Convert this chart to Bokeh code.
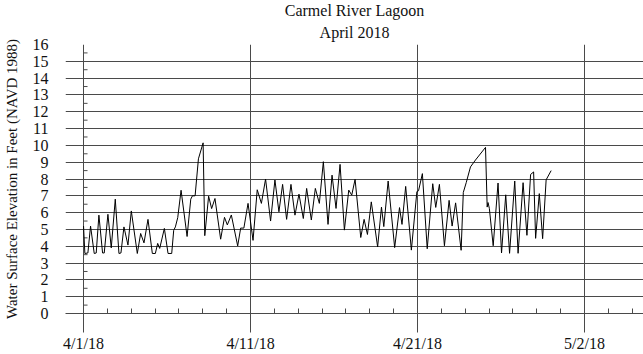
from bokeh.plotting import figure
from bokeh.models import FixedTicker, Range1d, Title
from bokeh.embed import file_html
from bokeh.resources import INLINE

# Days since 4/1/2018 and water surface elevation (ft, NAVD 1988)
days = [0, 0.08, 0.26, 0.42, 0.64, 0.76, 0.92, 1.14, 1.24, 1.46, 1.66, 1.9, 2.12, 2.24,
        2.42, 2.66, 2.86, 3.22, 3.42, 3.62, 3.86, 4.12, 4.3, 4.44, 4.56, 4.84, 5.06, 5.28,
        5.4, 5.5, 5.64, 5.84, 6.2, 6.42, 6.52, 6.68, 6.88, 7.16, 7.26, 7.49, 7.67, 7.87,
        8.21, 8.44, 8.61, 8.85, 9.23, 9.41, 9.6, 9.85, 10.15, 10.4, 10.65, 10.9, 11.2,
        11.46, 11.7, 11.92, 12.16, 12.42, 12.66, 12.9, 13.16, 13.36, 13.64, 13.88, 14.12,
        14.36, 14.64, 14.88, 15.12, 15.36, 15.62, 15.88, 16.06, 16.26, 16.6, 16.8, 17.0,
        17.23, 17.61, 17.84, 17.98, 18.24, 18.63, 18.92, 19.07, 19.29, 19.63, 19.96, 20.06,
        20.29, 20.58, 20.91, 21.09, 21.31, 21.61, 21.89, 22.07, 22.28, 22.61, 22.74, 22.92,
        23.17, 23.47, 24.07, 24.17, 24.22, 24.3, 24.53, 24.82, 25.03, 25.28, 25.51, 25.82,
        26.02, 26.32, 26.55, 26.77, 26.95, 27.07, 27.29, 27.49, 27.7, 28.0]
elev = [5.2, 3.57, 3.6, 5.2, 3.57, 3.6, 5.85, 3.6, 3.6, 5.9, 3.9, 6.8, 3.57, 3.6,
        5.15, 4.07, 6.1, 3.57, 4.76, 4.2, 5.6, 3.57, 3.57, 4.17, 3.87, 5.06, 3.57, 3.57,
        4.95, 5.15, 5.7, 7.33, 4.58, 6.8, 7.0, 7.0, 9.2, 10.15, 4.63, 6.98, 6.24, 6.84,
        4.42, 5.72, 5.27, 5.86, 4.02, 5.08, 5.08, 6.55, 4.35, 7.36, 6.55, 8.0, 5.5,
        7.94, 6.05, 7.68, 5.6, 7.68, 5.85, 7.1, 5.65, 7.44, 5.56, 7.44, 6.55,
        9.03, 5.3, 8.23, 6.25, 8.87, 4.96, 7.34, 7.04, 7.98, 4.52, 5.6, 4.7,
        6.64, 3.96, 6.33, 5.17, 7.88, 3.92, 6.3, 5.3, 7.56, 3.77, 7.25, 7.3,
        8.32, 3.85, 7.72, 6.31, 7.68, 4.03, 6.73, 5.2, 6.58, 3.76, 7.2, 7.8,
        8.72, 9.13, 9.88, 6.33, 6.6, 6.25, 4.03, 7.76, 3.6, 7.06, 3.58, 7.88,
        3.58, 7.78, 4.65, 8.27, 8.42, 4.47, 7.13, 4.45, 7.95, 8.5]

x_major_ticks = [0, 10, 20, 30]
x_major_labels = ["4/1/18", "4/11/18", "4/21/18", "5/2/18"]
x_minor_ticks = [1.43, 2.86, 4.29, 5.71, 7.14, 8.57,
                 11.43, 12.86, 14.29, 15.71, 17.14, 18.57,
                 21.43, 22.86, 24.29, 25.71, 27.14, 28.57,
                 31.43, 32.86]
y_ticks = list(range(0, 17))
y_minor_ticks = [0.5, 1.5, 2.5, 3.5, 4.5, 5.5, 6.5, 7.5, 8.5, 9.5, 10.5, 11.5,
                 12.5, 13.5, 14.5, 15.5]
title_lines = ["Carmel River Lagoon", "April 2018"]

FONT = "Liberation Serif"
GRID = "#4a4a4a"
TXT = "#111111"

p = figure(width=643, height=354, output_backend="svg", toolbar_location=None,
           title=None,
           x_range=Range1d(-1.08, 33.53), y_range=Range1d(0, 16),
           min_border_left=65, min_border_right=0, min_border_top=44,
           min_border_bottom=40)
p.outline_line_color = None
p.background_fill_color = "white"

t2 = Title(text=title_lines[1], align="center", text_font=FONT, text_font_size="16px",
           text_font_style="normal", text_color=TXT, standoff=8)
t1 = Title(text=title_lines[0], align="center", text_font=FONT, text_font_size="16px",
           text_font_style="normal", text_color=TXT, standoff=-3)
p.add_layout(t2, "above")
p.add_layout(t1, "above")

# x axis
xa = p.xaxis[0]
xa.ticker = FixedTicker(ticks=x_major_ticks, minor_ticks=x_minor_ticks)
xa.major_label_overrides = {t: l for t, l in zip(x_major_ticks, x_major_labels)}
xa.major_tick_out = 19
xa.major_tick_in = 0
xa.minor_tick_in = 5
xa.minor_tick_out = 0
xa.axis_line_color = GRID
xa.major_tick_line_color = GRID
xa.minor_tick_line_color = GRID
xa.major_label_standoff = 2
xa.major_label_text_font = FONT
xa.major_label_text_font_size = "16px"
xa.major_label_text_color = TXT

# y axis
ya = p.yaxis[0]
ya.ticker = FixedTicker(ticks=y_ticks)
ya.axis_line_color = None
ya.major_tick_line_color = None
ya.minor_tick_line_color = None
ya.major_tick_out = 0
ya.major_tick_in = 0
ya.major_label_standoff = 17
ya.major_label_text_font = FONT
ya.major_label_text_font_size = "16px"
ya.major_label_text_color = TXT
ya.axis_label = "Water Surface Elevation in Feet (NAVD 1988)"
ya.axis_label_text_font = FONT
ya.axis_label_text_font_size = "15px"
ya.axis_label_text_font_style = "normal"
ya.axis_label_text_color = TXT
ya.axis_label_standoff = 10

p.xgrid.ticker = FixedTicker(ticks=x_major_ticks)
p.xgrid.grid_line_color = GRID
p.xgrid.grid_line_width = 1
p.ygrid.ticker = FixedTicker(ticks=y_ticks)
p.ygrid.grid_line_color = GRID
p.ygrid.grid_line_width = 1

# small minor ticks on the 4/1 vertical line
p.ray(x=[x_major_ticks[0]] * len(y_minor_ticks), y=y_minor_ticks, length=4,
      length_units="screen", angle=0, line_color=GRID, line_width=1)

p.line(days, elev, line_color="black", line_width=1)

open("out.html", "w").write(file_html(p, INLINE))
